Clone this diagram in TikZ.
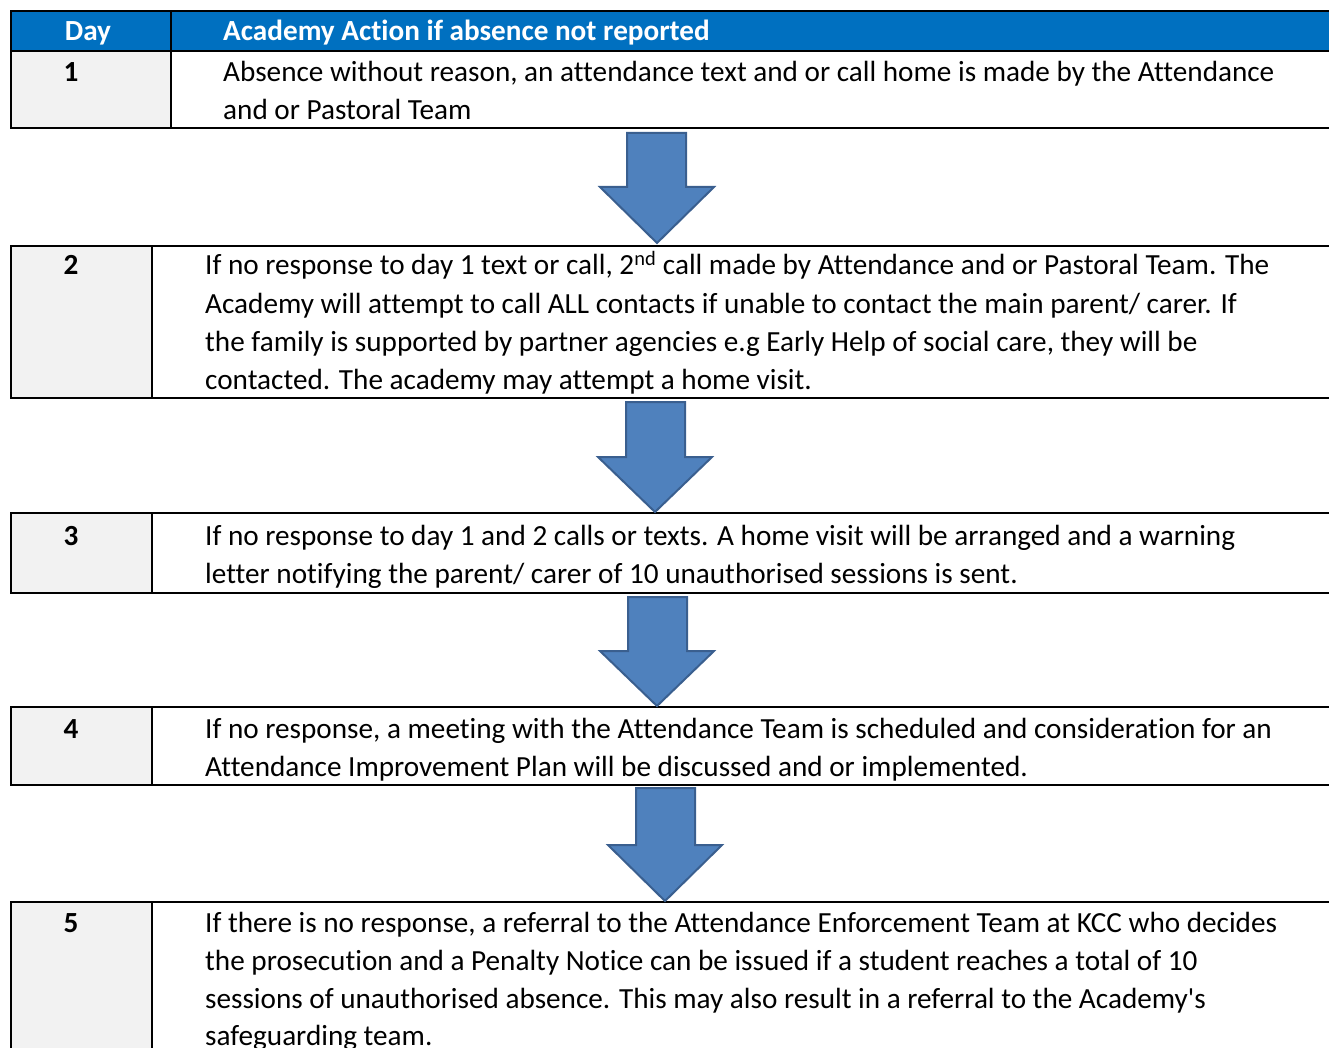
\documentclass[tikz,border=0pt]{standalone}
\usepackage{fontspec}
\setmainfont[Ligatures={NoCommon}]{Carlito}
\newfontfamily\straightapos[Ligatures={NoCommon,TeXOff}]{Carlito}
\definecolor{hdrblue}{HTML}{0070C0}
\definecolor{dayfill}{HTML}{F2F2F2}
\definecolor{arrfill}{HTML}{4F81BD}
\definecolor{arrline}{HTML}{3A5F8F}
\begin{document}
\begin{tikzpicture}[x=1pt,y=-1pt,
  txt/.style={anchor=base west,inner sep=0pt,font=\fontsize{29.2}{34}\selectfont},
  daynum/.style={anchor=base,inner sep=0pt,font=\fontsize{29.2}{34}\selectfont\bfseries},
  hdr/.style={inner sep=0pt,font=\fontsize{29.2}{34}\selectfont\bfseries,text=white},
  rule/.style={line width=2pt,black},
  downarrow/.style={fill=arrfill,draw=arrline,line width=2pt,line join=miter}]
\useasboundingbox (0,0) rectangle (1329,1048);
\clip (0,0) rectangle (1329,1048);
% ---------- Table 1 ----------
\fill[hdrblue] (11,11) rectangle (1340,51);
\fill[dayfill] (11,51) rectangle (171,128);
\draw[rule] (1340,11) -- (11,11) -- (11,128) -- (1340,128);
\draw[rule] (11,51) -- (1340,51);
\draw[rule] (171,11) -- (171,128);
\node[hdr,anchor=base] (hday) at (88,41) {Day};
\node[hdr,anchor=base west] (hact) at (223,41) {Academy Action if absence not reported};
\node[daynum] (d1) at (71,82) {1};
\node[txt] (t1a) at (223,82) {Absence without reason, an attendance text and or call home is made by the Attendance};
\node[txt] (t1b) at (223,120) {and or Pastoral Team};
% ---------- Table 2 ----------
\fill[dayfill] (11,246) rectangle (152,398);
\draw[rule] (1340,246) -- (11,246) -- (11,398) -- (1340,398);
\draw[rule] (152,246) -- (152,398);
\node[daynum] (d2) at (71,275) {2};
\node[txt] (t2a) at (205,275) {If no response to day 1 text or call, 2\textsuperscript{nd} call made by Attendance and or Pastoral Team. The};
\node[txt] (t2b) at (205,313) {Academy will attempt to call ALL contacts if unable to contact the main parent/ carer. If};
\node[txt] (t2c) at (205,351) {the family is supported by partner agencies e.g Early Help of social care, they will be};
\node[txt] (t2d) at (205,389) {contacted. The academy may attempt a home visit.};
% ---------- Table 3 ----------
\fill[dayfill] (11,513) rectangle (152,593);
\draw[rule] (1340,513) -- (11,513) -- (11,593) -- (1340,593);
\draw[rule] (152,513) -- (152,593);
\node[daynum] (d3) at (71,545) {3};
\node[txt] (t3a) at (205,545) {If no response to day 1 and 2 calls or texts. A home visit will be arranged and a warning};
\node[txt] (t3b) at (205,583) {letter notifying the parent/ carer of 10 unauthorised sessions is sent.};
% ---------- Table 4 ----------
\fill[dayfill] (11,707) rectangle (152,785);
\draw[rule] (1340,707) -- (11,707) -- (11,785) -- (1340,785);
\draw[rule] (152,707) -- (152,785);
\node[daynum] (d4) at (71,738) {4};
\node[txt] (t4a) at (205,738) {If no response, a meeting with the Attendance Team is scheduled and consideration for an};
\node[txt] (t4b) at (205,776) {Attendance Improvement Plan will be discussed and or implemented.};
% ---------- Table 5 ----------
\fill[dayfill] (11,902) rectangle (152,1060);
\draw[rule] (1340,902) -- (11,902) -- (11,1060);
\draw[rule] (152,902) -- (152,1060);
\node[daynum] (d5) at (71,932) {5};
\node[txt] (t5a) at (205,932) {If there is no response, a referral to the Attendance Enforcement Team at KCC who decides};
\node[txt] (t5b) at (205,970) {the prosecution and a Penalty Notice can be issued if a student reaches a total of 10};
\node[txt] (t5c) at (205,1008) {\straightapos sessions of unauthorised absence. This may also result in a referral to the Academy's};
\node[txt] (t5d) at (205,1045) {safeguarding team.};
% ---------- Arrows ----------
\draw[downarrow] (627,133) -- (686,133) -- (686,187) -- (714,187) -- (657,243) -- (600,187) -- (627,187) -- cycle;
\draw[downarrow] (626,402) -- (685,402) -- (685,457) -- (712,457) -- (655,512) -- (598,457) -- (626,457) -- cycle;
\draw[downarrow] (628,597) -- (687,597) -- (687,651) -- (714,651) -- (657,706) -- (600,651) -- (628,651) -- cycle;
\draw[downarrow] (636,788) -- (695,788) -- (695,845) -- (722,845) -- (665,901) -- (608,845) -- (636,845) -- cycle;
\end{tikzpicture}
\end{document}
